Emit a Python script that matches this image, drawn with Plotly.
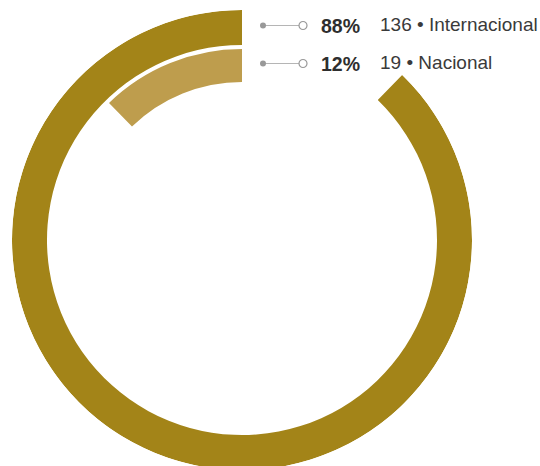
import plotly.graph_objects as go

# ---- data ----
categories = ["Internacional", "Nacional"]
counts = [136, 19]
percent_labels = ["88%", "12%"]
colors = ["#A38418", "#BE9D4D"]

# ---- layout geometry (pixels) ----
W, H = 540, 470
CX, CY, R = 242, 240, 230
ring_bands = [(195, 230), (158, 191)]   # inner/outer radius of each ring

total = sum(counts)

fig = go.Figure()
for cat, cnt, col, (r0, r1) in zip(categories, counts, colors, ring_bands):
    span = 360.0 * cnt / total
    fig.add_trace(go.Barpolar(
        r=[r1 - r0], base=[r0], theta=[span / 2], width=[span],
        marker=dict(color=col, line=dict(width=0)),
        name=cat, hoverinfo="skip", showlegend=False,
    ))

fig.update_layout(
    width=W, height=H,
    margin=dict(l=0, r=0, t=0, b=0),
    paper_bgcolor="white", plot_bgcolor="white",
    polar=dict(
        domain=dict(x=[(CX - R) / W, (CX + R) / W], y=[(H - CY - R) / H, (H - CY + R) / H]),
        bgcolor="rgba(0,0,0,0)",
        hole=0,
        radialaxis=dict(range=[0, R], visible=False),
        angularaxis=dict(direction="counterclockwise", rotation=90, visible=False),
    ),
    xaxis=dict(range=[0, W], visible=False, domain=[0, 1], fixedrange=True),
    yaxis=dict(range=[H, 0], visible=False, domain=[0, 1], fixedrange=True),
)

# ---- leader lines + labels ----
for i, ((r0, r1), pct, cnt, cat) in enumerate(zip(ring_bands, percent_labels, counts, categories)):
    y = CY - (r0 + r1) / 2 - 2
    x0, x1 = CX + 21, CX + 61
    fig.add_trace(go.Scatter(x=[x0, x1], y=[y, y], mode="lines",
                             line=dict(color="#b5b5b5", width=1.2),
                             hoverinfo="skip", showlegend=False))
    fig.add_trace(go.Scatter(x=[x0], y=[y], mode="markers",
                             marker=dict(size=6, color="#999999"),
                             hoverinfo="skip", showlegend=False))
    fig.add_trace(go.Scatter(x=[x1], y=[y], mode="markers",
                             marker=dict(size=8, color="white", line=dict(color="#999999", width=1.2)),
                             hoverinfo="skip", showlegend=False))
    fig.add_annotation(x=CX + 77, y=y, xref="x", yref="y", text="<b>%s</b>" % pct,
                       showarrow=False, xanchor="left", yanchor="middle",
                       font=dict(family="Liberation Sans, Arial", size=19.5, color="#2e2e2e"))
    fig.add_annotation(x=CX + 136, y=y - 1, xref="x", yref="y", text="%d • %s" % (cnt, cat),
                       showarrow=False, xanchor="left", yanchor="middle",
                       font=dict(family="Liberation Sans, Arial", size=19, color="#3a3a3a"))

fig.write_html("out.html",
               config={"displayModeBar": False},
               post_script="document.body.style.margin='0';document.documentElement.style.overflow='hidden';document.body.style.overflow='hidden';")
